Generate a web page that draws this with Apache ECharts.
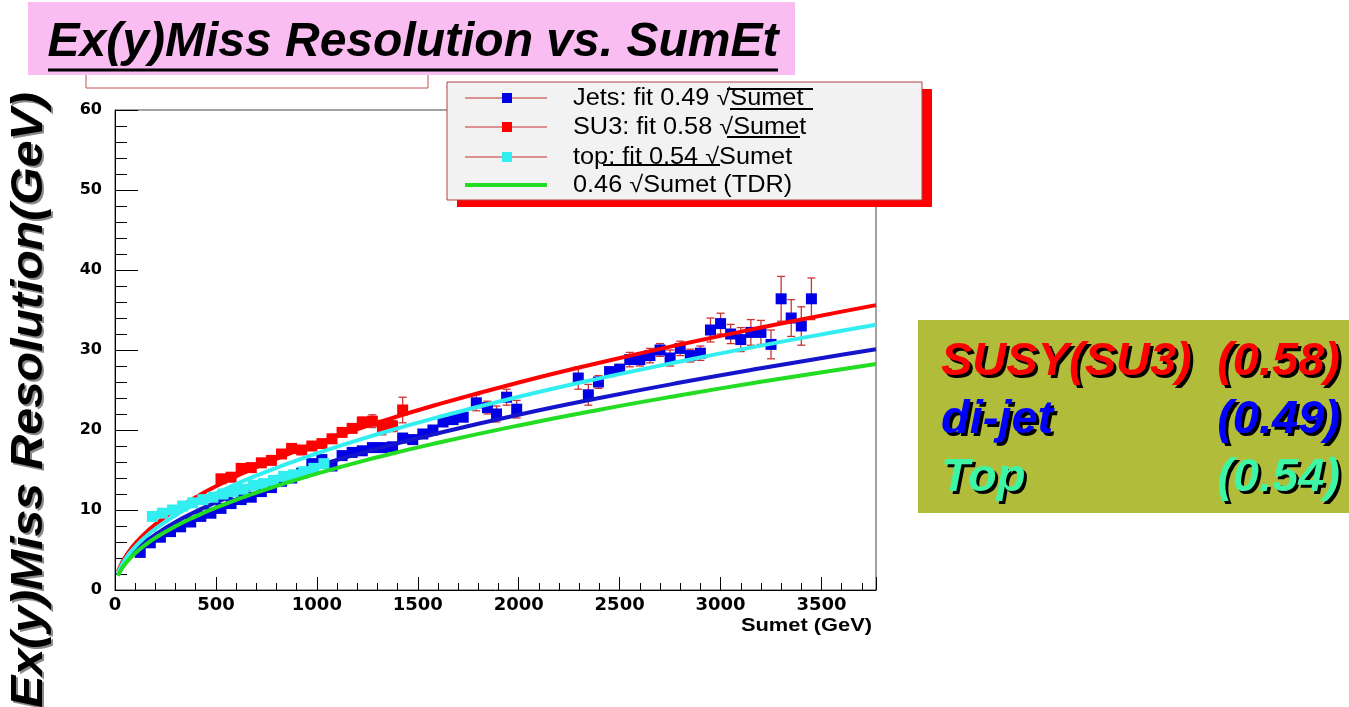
<!DOCTYPE html>
<html><head><meta charset="utf-8">
<script src="https://cdn.jsdelivr.net/npm/echarts/dist/echarts.min.js"></script>
<style>html,body{margin:0;padding:0;background:#fff;}#c{width:1349px;height:707px;}</style>
</head><body><div id="c"></div><script>
// ---------------- data ----------------
const jetsX = [125,175,225,275,325,375,425,475,525,575,625,675,725,775,825,875,925,975,1025,1075,1125,1175,1225,1275,1325,1375,1425,1475,1525,1575,1625,1675,1725,1790,1845,1890,1940,1990,2295,2345,2395,2450,2500,2550,2600,2650,2700,2750,2800,2850,2900,2950,3000,3050,3100,3150,3200,3250,3300,3350,3400,3450];
const jetsY = [4.7,5.9,6.6,7.3,7.9,8.5,9.2,9.6,10.2,10.8,11.3,11.6,12.3,12.8,13.6,14.0,14.6,15.8,16.3,15.5,16.8,17.2,17.4,17.8,17.8,17.9,19.0,18.8,19.5,20.0,21.0,21.3,21.6,23.4,22.8,22.0,24.1,22.6,26.5,24.4,26.0,27.3,27.6,28.8,28.8,29.3,30.0,29.0,30.2,29.3,29.6,32.5,33.3,32.0,31.3,32.2,32.2,30.7,36.4,34.0,33.0,36.4];
const jetsErr = [0.3,0.3,0.3,0.3,0.3,0.3,0.3,0.3,0.3,0.3,0.3,0.3,0.3,0.3,0.3,0.3,0.3,0.3,0.3,0.3,0.3,0.3,0.3,0.3,0.3,0.3,0.3,0.3,0.5,0.5,0.5,0.5,0.5,1.0,0.8,1.0,1.0,1.1,1.4,1.3,0.8,0.6,0.6,0.9,0.8,0.9,0.8,1.0,0.9,0.8,0.9,1.5,1.3,1.2,1.5,1.6,1.5,1.8,2.8,2.3,2.4,2.6];

const su3X = [525,575,625,675,725,775,825,875,925,975,1025,1075,1125,1175,1225,1275,1325,1375,1425];
const su3Y = [13.9,14.1,15.2,15.3,15.9,16.2,17.0,17.7,17.5,18.0,18.3,18.9,19.7,20.2,21.0,21.1,20.3,20.5,22.5];
const su3Err = [0.3,0.3,0.3,0.3,0.3,0.3,0.3,0.3,0.3,0.3,0.4,0.4,0.5,0.5,0.6,0.8,0.9,0.7,1.6];

const topX = [185,235,285,335,385,435,485,535,585,635,685,735,785,835,885,935,985,1035];
const topY = [9.2,9.6,10.0,10.5,10.9,11.3,11.6,12.0,12.3,12.6,13.1,13.3,13.7,14.2,14.4,14.8,15.2,15.8];
const topErr = [0.3,0.3,0.3,0.3,0.3,0.3,0.3,0.3,0.3,0.3,0.3,0.3,0.3,0.3,0.3,0.3,0.3,0.3];

// fit curves
const fitX    = [15,30,50,75,100,150,200,300,400,500,700,1000,1300,1600,2000,2400,2800,3200,3600,3770];
const fitJets = [1.90,2.68,3.46,4.24,4.90,6.00,6.93,8.49,9.80,10.96,12.96,15.50,17.67,19.60,21.91,24.00,25.93,27.72,29.40,30.09];
const fitSU3  = [2.25,3.18,4.10,5.02,5.80,7.10,8.20,10.05,11.60,12.97,15.35,18.34,20.91,23.20,25.94,28.41,30.69,32.81,34.80,35.61];
const fitTop  = [2.09,2.96,3.82,4.68,5.40,6.61,7.64,9.35,10.80,12.07,14.29,17.08,19.47,21.60,24.15,26.45,28.57,30.55,32.40,33.16];
const fitTDR  = [1.78,2.52,3.25,3.98,4.60,5.63,6.51,7.97,9.20,10.29,12.17,14.55,16.59,18.40,20.57,22.54,24.34,26.02,27.60,28.24];

const legendLabels = ['Jets: fit 0.49 \u221ASumet','SU3: fit 0.58 \u221ASumet','top: fit 0.54 \u221ASumet','0.46 \u221ASumet (TDR)'];
const boxLeft  = ['SUSY(SU3)','di-jet','Top'];
const boxRight = ['(0.58)','(0.49)','(0.54)'];
const titleText = 'Ex(y)Miss Resolution vs. SumEt';
const yTitle = 'Ex(y)Miss Resolution(GeV)';
const xTitle = 'Sumet (GeV)';

// ---------------- styles ----------------
const C = {jets:'#0000e6', su3:'#ff0000', top:'#33eef0', tdr:'#22dd22', jetsFit:'#1414cc', err:'#cc3333'};

function pts(xs, ys){ return xs.map((x,i)=>[x, ys[i]]); }
function errSeries(xs, ys, es, z){
  return {type:'custom', z:z, silent:true, clip:true, encode:{x:0,y:1},
    data: xs.map((x,i)=>[x, ys[i], es[i]]),
    renderItem: function(params, api){
      const x=api.value(0), y=api.value(1), e=api.value(2);
      const t=api.coord([x,y+e]), b=api.coord([x,y-e]); const c=4;
      const st={stroke:C.err, lineWidth:1.3};
      return {type:'group', children:[
        {type:'line', shape:{x1:t[0],y1:t[1],x2:b[0],y2:b[1]}, style:st},
        {type:'line', shape:{x1:t[0]-c,y1:t[1],x2:t[0]+c,y2:t[1]}, style:st},
        {type:'line', shape:{x1:b[0]-c,y1:b[1],x2:b[0]+c,y2:b[1]}, style:st}
      ]};
    }};
}
function scat(xs, ys, color, z){
  return {type:'scatter', z:z, symbol:'rect', symbolSize:11, data:pts(xs,ys), itemStyle:{color:color, opacity:1}, silent:true};
}
function fit(ys, color, z){
  return {type:'line', z:z, data:pts(fitX, ys), smooth:true, showSymbol:false, silent:true,
    lineStyle:{color:color, width:4}};
}

// ---------------- graphics ----------------
const G = [];
// old (covered) ROOT title box
G.push({type:'rect', z:50, shape:{x:86,y:50,width:342,height:38}, style:{fill:'#fff', stroke:'#c05050', lineWidth:1}});
// pink title box
G.push({type:'rect', z:51, shape:{x:28,y:2,width:767,height:73}, style:{fill:'#f9bdf1'}});
G.push({type:'text', z:52, x:413, y:43, scaleX:1.0, style:{text:titleText, fill:'#000', font:'italic bold 48px "Liberation Sans", Arial, sans-serif', textAlign:'center', textVerticalAlign:'middle'}});
G.push({type:'line', z:52, shape:{x1:48,y1:70,x2:778,y2:70}, style:{stroke:'#000', lineWidth:3}});

// y title
G.push({type:'text', z:52, x:32, y:402, rotation:Math.PI/2, scaleX:1.07, style:{text:yTitle, fill:'#8a8a8a', font:'italic bold 45px "Liberation Sans", Arial, sans-serif', textAlign:'center', textVerticalAlign:'middle'}});
G.push({type:'text', z:53, x:30, y:400, rotation:Math.PI/2, scaleX:1.07, style:{text:yTitle, fill:'#000', font:'italic bold 45px "Liberation Sans", Arial, sans-serif', textAlign:'center', textVerticalAlign:'middle'}});

// x title
G.push({type:'text', z:52, x:872, y:626, scaleX:1.15, style:{text:xTitle, fill:'#000', font:'bold 19px "Liberation Sans", Arial, sans-serif', textAlign:'right', textVerticalAlign:'middle'}});

// legend box
G.push({type:'rect', z:100, shape:{x:457,y:89,width:475,height:118}, style:{fill:'#ff0000'}});
G.push({type:'rect', z:101, shape:{x:447,y:82,width:475,height:118}, style:{fill:'#f2f2f2', stroke:'#b04040', lineWidth:1}});
const rowY = [98,127,157,185];
const legMark = [C.jets, C.su3, C.top];
for (let i=0;i<4;i++){
  if (i<3){
    G.push({type:'line', z:102, shape:{x1:465,y1:rowY[i],x2:547,y2:rowY[i]}, style:{stroke:'#c03030', lineWidth:1}});
    G.push({type:'rect', z:103, shape:{x:502,y:rowY[i]-5,width:10,height:10}, style:{fill:legMark[i]}});
  } else {
    G.push({type:'line', z:102, shape:{x1:465,y1:rowY[i],x2:547,y2:rowY[i]}, style:{stroke:C.tdr, lineWidth:4}});
  }
  G.push({type:'text', z:103, x:573, y:rowY[i]+1, scaleX:1.1, style:{text:legendLabels[i], fill:'#000', font:'23px "Liberation Sans", Arial, sans-serif', textAlign:'left', textVerticalAlign:'middle'}});
}
// radical bars (as drawn in the original)
[[727,89,813],[730,109,813],[727,137,800],[603,165,720]].forEach(l=>{
  G.push({type:'line', z:104, shape:{x1:l[0],y1:l[1],x2:l[2],y2:l[1]}, style:{stroke:'#000', lineWidth:2}});
});

// right box
G.push({type:'rect', z:50, shape:{x:918,y:320,width:431,height:193}, style:{fill:'#b1bd3a'}});
const boxRowY = [362,420,478];
const boxCol = ['#ff0000','#0000ff','#3ef5a6'];
for (let i=0;i<3;i++){
  const f='italic bold 47px "Liberation Sans", Arial, sans-serif';
  G.push({type:'text', z:51, x:944, y:boxRowY[i]+3, style:{text:boxLeft[i], fill:'#000', font:f, textAlign:'left', textVerticalAlign:'middle'}});
  G.push({type:'text', z:52, x:941, y:boxRowY[i], style:{text:boxLeft[i], fill:boxCol[i], font:f, textAlign:'left', textVerticalAlign:'middle'}});
  G.push({type:'text', z:51, x:1343, y:boxRowY[i]+3, style:{text:boxRight[i], fill:'#000', font:f, textAlign:'right', textVerticalAlign:'middle'}});
  G.push({type:'text', z:52, x:1340, y:boxRowY[i], style:{text:boxRight[i], fill:boxCol[i], font:f, textAlign:'right', textVerticalAlign:'middle'}});
}

// ---------------- chart ----------------
const chart = echarts.init(document.getElementById('c'), null, {renderer:'canvas'});
const lblFont = {fontFamily:'"DejaVu Sans", sans-serif', fontWeight:'bold', color:'#000'};
chart.setOption({
  animation:false,
  backgroundColor:'#fff',
  grid:{left:115, right:473, top:110, bottom:117, show:true, borderColor:'#444', borderWidth:1, backgroundColor:'#fff'},
  xAxis:[
    {type:'value', min:0, max:3770, interval:500, position:'bottom',
     axisLine:{show:true, onZero:false, lineStyle:{color:'#000', width:1}},
     axisTick:{show:true, inside:true, length:13, lineStyle:{color:'#000'}},
     axisLabel:Object.assign({fontSize:18, margin:6, formatter:v=> (v%500===0 ? String(v) : '')}, lblFont),
     splitLine:{show:false}},
    {type:'value', min:0, max:3770, interval:100, position:'bottom',
     axisLine:{show:false, onZero:false},
     axisTick:{show:true, inside:true, length:7, lineStyle:{color:'#000'}},
     axisLabel:{show:false}, splitLine:{show:false}}
  ],
  yAxis:[
    {type:'value', min:0, max:60, interval:10, position:'left',
     axisLine:{show:true, onZero:false, lineStyle:{color:'#000', width:1}},
     axisTick:{show:true, inside:true, length:23, lineStyle:{color:'#000'}},
     minorTick:{show:true, splitNumber:5, length:12, lineStyle:{color:'#000'}},
     axisLabel:Object.assign({fontSize:16, margin:13}, lblFont),
     splitLine:{show:false}, minorSplitLine:{show:false}}
  ],
  series:[
    errSeries(jetsX, jetsY, jetsErr, 10),
    scat(jetsX, jetsY, C.jets, 11),
    fit(fitJets, C.jetsFit, 12),
    errSeries(su3X, su3Y, su3Err, 13),
    scat(su3X, su3Y, C.su3, 14),
    fit(fitSU3, C.su3, 15),
    errSeries(topX, topY, topErr, 16),
    scat(topX, topY, C.top, 17),
    fit(fitTop, C.top, 18),
    fit(fitTDR, C.tdr, 19)
  ],
  graphic:{elements:G}
});
</script></body></html>
